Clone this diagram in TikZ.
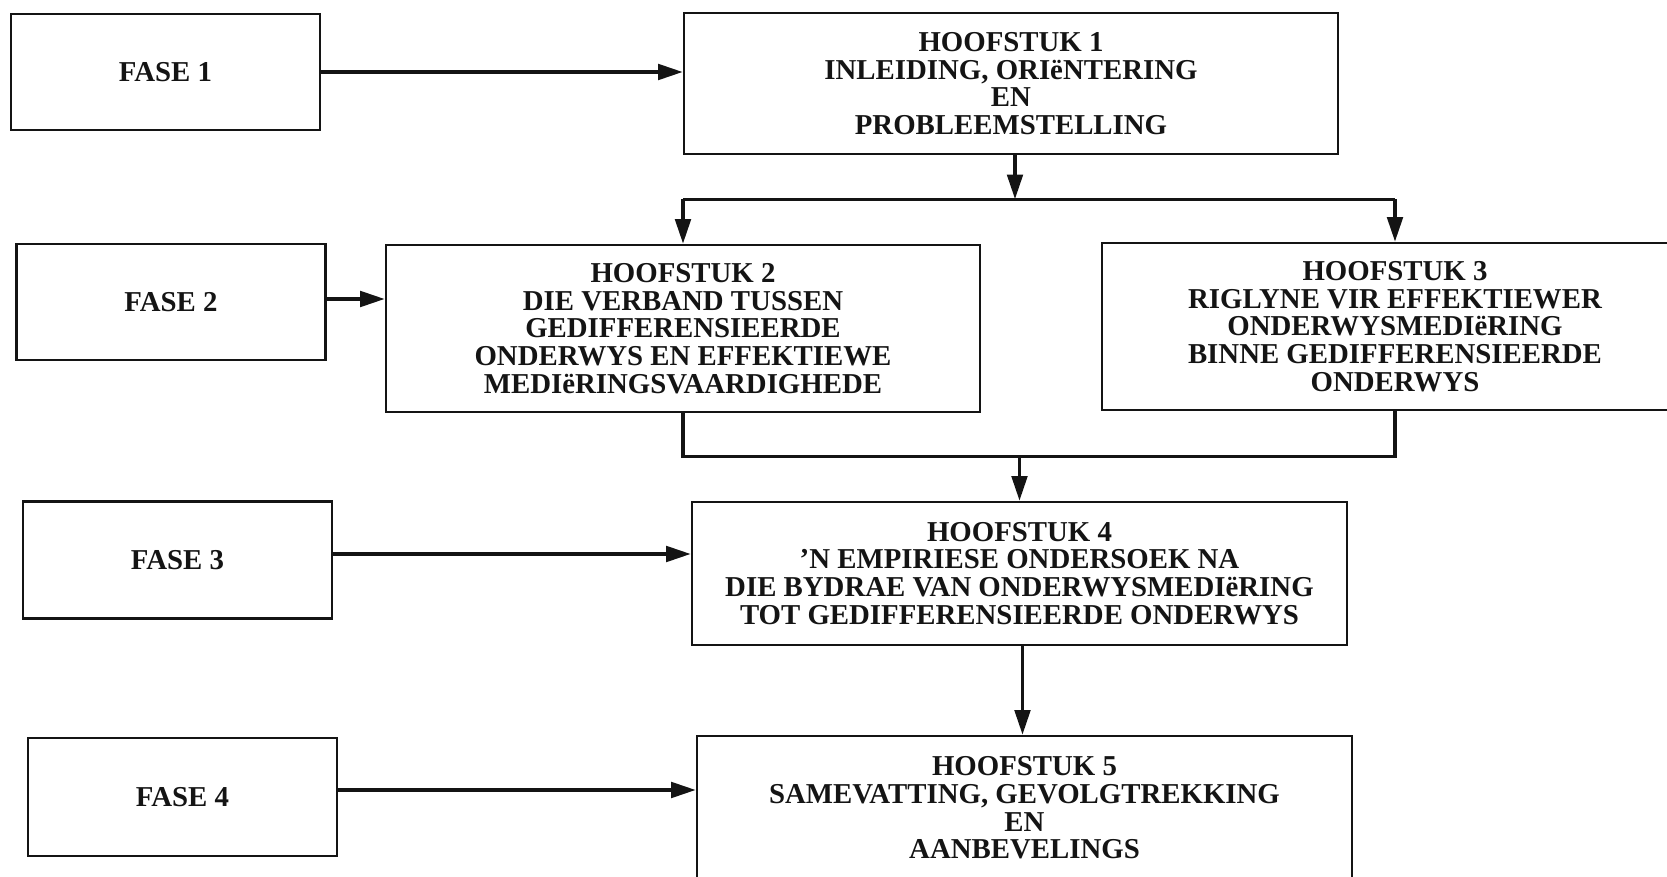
\documentclass[tikz,border=0pt]{standalone}
\usepackage{fontspec}
\setmainfont{Liberation Serif}
\usetikzlibrary{arrows.meta, calc}
\definecolor{cink}{HTML}{141414}
\tikzset{
  every picture/.style={line width=0.7pt},
  box/.style={draw=cink, rectangle, inner sep=0pt, align=center, text=cink,
    font=\fontsize{8.2}{7.9}\selectfont\bfseries},
  fase/.style={box, minimum width=3.09cm, minimum height=1.16cm},
  arrow/.style={-{Triangle[length=7pt, width=4.4pt]}, draw=cink, line width=1pt},
  link/.style={draw=cink, line width=0.9pt},
}

\begin{document}
\begin{tikzpicture}
  \useasboundingbox (0,0) rectangle (16.67,8.77);
  \clip (0,0) rectangle (16.67,8.77);
  % ---------- phases on the left
  \node[fase] (f1) at (1.655, 8.05) {FASE 1};
  \node[fase] (f2) at (1.71, 5.75) {FASE 2};
  \node[fase, minimum height=1.17cm] (f3) at (1.775, 3.17) {FASE 3};
  \node[fase, minimum height=1.18cm] (f4) at (1.825, 0.80) {FASE 4};
  % ---------- chapters
  \node[box, minimum width=6.54cm, minimum height=1.41cm] (h1) at (10.11, 7.935)
    {HOOFSTUK 1\\INLEIDING, ORIëNTERING\\EN\\PROBLEEMSTELLING};
  \node[box, minimum width=5.94cm, minimum height=1.67cm] (h2) at (6.83, 5.485)
    {HOOFSTUK 2\\DIE VERBAND TUSSEN\\GEDIFFERENSIEERDE\\ONDERWYS EN EFFEKTIEWE\\MEDIëRINGSVAARDIGHEDE};
  \node[box, minimum width=5.86cm, minimum height=1.67cm] (h3) at (13.95, 5.505)
    {HOOFSTUK 3\\RIGLYNE VIR EFFEKTIEWER\\ONDERWYSMEDIëRING\\BINNE GEDIFFERENSIEERDE\\ONDERWYS};
  \node[box, minimum width=6.55cm, minimum height=1.43cm] (h4) at (10.195, 3.035)
    {HOOFSTUK 4\\'N EMPIRIESE ONDERSOEK NA\\DIE BYDRAE VAN ONDERWYSMEDIëRING\\TOT GEDIFFERENSIEERDE ONDERWYS};
  \node[box, minimum width=6.55cm, minimum height=1.44cm] (h5) at (10.245, 0.69)
    {HOOFSTUK 5\\SAMEVATTING, GEVOLGTREKKING\\EN\\AANBEVELINGS};
  % ---------- phase arrows
  \draw[arrow] (f1.east) -- (f1.east -| h1.west);
  \draw[arrow] ($(f2.east)+(0,0.03)$) -- ($(f2.east -| h2.west)+(0,0.03)$);
  \draw[arrow] ($(f3.east)+(0,0.06)$) -- ($(f3.east -| h4.west)+(0,0.06)$);
  \draw[arrow] ($(f4.east)+(0,0.07)$) -- ($(f4.east -| h5.west)+(0,0.07)$);
  % ---------- split below chapter 1
  \coordinate (j1) at ($(h1.south)+(0.04,-0.44)$);
  \draw[arrow] (h1.south -| j1) -- (j1);
  \draw[link] (h2.north |- j1) -- (h3.north |- j1);
  \draw[arrow] (h2.north |- j1) -- (h2.north);
  \draw[arrow] (h3.north |- j1) -- (h3.north);
  % ---------- join above chapter 4
  \coordinate (j2) at ($(h4.north)+(0,0.44)$);
  \draw[link] (h2.south) -- (h2.south |- j2) -- (h3.south |- j2) -- (h3.south);
  \draw[arrow] (j2) -- (h4.north);
  \draw[arrow] ($(h4.south)+(0.03,0)$) -- ($(h4.south |- h5.north)+(0.03,0)$);
\end{tikzpicture}
\end{document}
